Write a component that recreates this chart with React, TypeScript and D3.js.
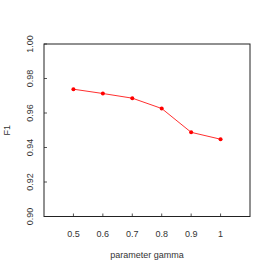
import * as d3 from 'd3';

const gammas = [0.5, 0.6, 0.7, 0.8, 0.9, 1];
const f1Values = [0.9738, 0.9713, 0.9686, 0.9626, 0.9488, 0.9448];
const yTicks = [0.9, 0.92, 0.94, 0.96, 0.98, 1.0];

const W = 273;
const H = 272;
const left = 44;
const right = 250;
const top = 44;
const bottom = 216.5;

function App() {
  const x = d3.scaleLinear().domain([0.4, 1.1]).range([left, right]);
  const y = d3.scaleLinear().domain([0.9, 1.0]).range([bottom, top]);
  const line = d3
    .line<number>()
    .x((_, i) => x(gammas[i]))
    .y((d) => y(d));
  const font = "'Liberation Sans', Arial, sans-serif";

  return (
    <svg
      width={W}
      height={H}
      style={{ position: 'absolute', left: 0, top: 0, background: '#fff' }}
      fontFamily={font}
    >
      {/* y ticks */}
      {yTicks.map((t) => (
        <g key={t}>
          <line x1={left} x2={left + 3} y1={y(t)} y2={y(t)} stroke="#555" />
          <text
            transform={`translate(${left - 11},${y(t)}) rotate(-90)`}
            textAnchor="middle"
            fontSize={9}
            fill="#333"
          >
            {t.toFixed(2)}
          </text>
        </g>
      ))}
      {/* x ticks */}
      {gammas.map((g) => (
        <g key={g}>
          <line x1={x(g)} x2={x(g)} y1={bottom} y2={bottom - 3} stroke="#555" />
          <text x={x(g)} y={bottom + 20} textAnchor="middle" fontSize={9} fill="#333">
            {String(g)}
          </text>
        </g>
      ))}
      <rect
        x={left}
        y={top}
        width={right - left}
        height={bottom - top}
        fill="none"
        stroke="#222"
        strokeWidth={1}
      />
      <path d={line(f1Values) ?? ''} fill="none" stroke="#ff3030" strokeWidth={1} />
      {f1Values.map((v, i) => (
        <circle key={i} cx={x(gammas[i])} cy={y(v)} r={2} fill="#ff0000" />
      ))}
      <text
        transform={`translate(10,${(top + bottom) / 2}) rotate(-90)`}
        textAnchor="middle"
        fontSize={9}
        fill="#333"
      >
        F1
      </text>
      <text x={(left + right) / 2} y={258} textAnchor="middle" fontSize={9} fill="#333">
        parameter gamma
      </text>
    </svg>
  );
}

export default App;
